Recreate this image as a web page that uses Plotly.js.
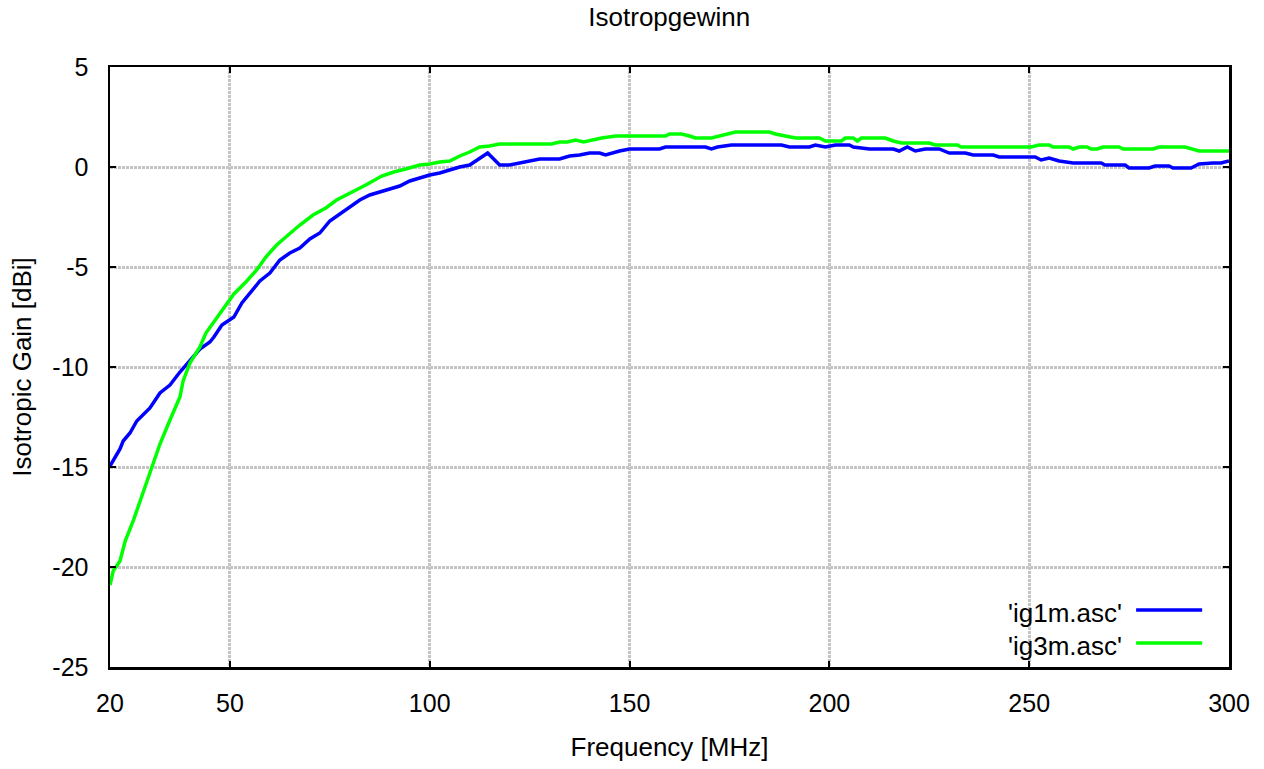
<!DOCTYPE html>
<html>
<head>
<meta charset="utf-8">
<script src="https://cdn.plot.ly/plotly-3.0.1.min.js"></script>
<style>html,body{margin:0;padding:0;background:#fff;}#chart{width:1264px;height:769px;}</style>
</head>
<body>
<div id="chart"></div>
<script>
// Series 1: 'ig1m.asc'
const freq1 = [20,21,22.5,23.3,25,26.7,28,30,32.5,35,37.5,40,42.5,45,46,48,50,51,53,55,57.5,60,62.5,65,67.5,70,72.5,75,77.5,80,82.5,85,87.5,90,92.5,95,97.5,100,102.5,105,107.5,110,112.5,114.5,115.5,117.5,120,122.5,125,127.5,132.5,135,137.5,140,142.5,144,147.5,150,157.5,159,169,170.5,172,175.5,188,190,195,196.5,199,201.5,203,205,206,210,216,217.5,219.5,221.5,224,227.5,230,234,236,241,242.5,251.5,253,255,257.5,261,268,269,274,275,280,281.5,285,286,290.5,292.5,296,298,300];
const gain1 = [-14.95,-14.6,-14.1,-13.7,-13.3,-12.7,-12.45,-12.05,-11.3,-10.9,-10.25,-9.7,-9.1,-8.75,-8.5,-7.9,-7.6,-7.5,-6.8,-6.3,-5.7,-5.3,-4.65,-4.3,-4.05,-3.6,-3.3,-2.7,-2.35,-1.95,-1.65,-1.4,-1.25,-1.1,-0.95,-0.7,-0.55,-0.4,-0.3,-0.15,0.0,0.1,0.45,0.7,0.5,0.1,0.1,0.2,0.3,0.4,0.4,0.55,0.6,0.7,0.7,0.6,0.8,0.9,0.9,1.0,1.0,0.9,1.0,1.1,1.1,1.0,1.0,1.1,1.0,1.1,1.1,1.1,1.0,0.9,0.9,0.8,1.0,0.8,0.9,0.9,0.7,0.7,0.6,0.6,0.5,0.5,0.35,0.45,0.3,0.2,0.2,0.1,0.1,-0.05,-0.05,0.05,0.05,-0.05,-0.05,0.15,0.2,0.2,0.3];

// Series 2: 'ig3m.asc'
const freq2 = [20,20.8,22.5,23.8,25.8,27.5,30,32.5,35,37.5,38.3,40,42.5,44,46.7,49,51,54,56.7,59,61.7,64,67.5,70.8,74,76.7,80.8,84,88,91,94,97.5,100,102.5,105,107.5,110,112.5,115,117.5,130.5,132.5,134.5,136.5,138.5,140.5,143,146.5,159,160,163,165,166.5,170.5,172.5,175,176.5,185,186.5,189,191.5,197.5,199,203,204,206,207,208,214,216,218,225,226.5,232,233,250.5,252.5,255,256,260,261,262.5,264.5,265.5,267,268.5,272.5,273.5,281,282.5,289,292.5,300];
const gain2 = [-20.9,-20.2,-19.7,-18.7,-17.7,-16.7,-15.2,-13.85,-12.65,-11.5,-10.7,-9.8,-9.0,-8.3,-7.55,-6.9,-6.35,-5.75,-5.15,-4.5,-3.9,-3.5,-2.9,-2.4,-2.05,-1.65,-1.25,-0.9,-0.45,-0.25,-0.1,0.1,0.15,0.25,0.3,0.55,0.75,1.0,1.05,1.15,1.15,1.25,1.25,1.35,1.25,1.35,1.45,1.55,1.55,1.65,1.65,1.55,1.45,1.45,1.55,1.65,1.75,1.75,1.65,1.55,1.45,1.45,1.3,1.3,1.45,1.45,1.3,1.45,1.45,1.3,1.2,1.2,1.1,1.1,1.0,1.0,1.1,1.1,1.0,1.0,0.9,1.0,1.0,0.9,0.9,1.0,1.0,0.9,0.9,1.0,1.0,0.8,0.8];

const seriesNames = ["'ig1m.asc'", "'ig3m.asc'"];
const xTicks = [20,50,100,150,200,250,300];
const yTicks = [5,0,-5,-10,-15,-20,-25];

const FONT = 'Liberation Sans, Arial, sans-serif';
const traces = [
  {x: freq1, y: gain1, name: seriesNames[0], mode: 'lines', line: {color: '#0000ff', width: 3.5}},
  {x: freq2, y: gain2, name: seriesNames[1], mode: 'lines', line: {color: '#00ff00', width: 3.5}}
];

const axisCommon = {
  showline: true, linecolor: '#000', linewidth: 2.5, mirror: 'ticks',
  ticks: 'inside', ticklen: 6, tickwidth: 2, tickcolor: '#000',
  showgrid: true, gridcolor: '#c4c4c4', gridwidth: 3, griddash: '3px,1px',
  zeroline: false, tickfont: {family: FONT, size: 25, color: '#000'}
};

const layout = {
  width: 1264, height: 769,
  margin: {l: 110, r: 35, t: 67, b: 102},
  paper_bgcolor: '#fff', plot_bgcolor: '#fff',
  showlegend: false,
  font: {family: FONT, color: '#000'},
  title: {text: 'Isotropgewinn', font: {family: FONT, size: 26, color: '#000'}, x: 0.5295, xanchor: 'center', y: 0.978, yanchor: 'middle'},
  xaxis: Object.assign({}, axisCommon, {
    range: [20, 300], tickvals: xTicks, ticktext: xTicks.map(String),
    ticklabelstandoff: 12,
    title: {text: 'Frequency [MHz]', font: {family: FONT, size: 26, color: '#000'}, standoff: 23}
  }),
  yaxis: Object.assign({}, axisCommon, {
    range: [-25, 5], tickvals: yTicks, ticktext: yTicks.map(String),
    ticklabelstandoff: 14,
    title: {text: 'Isotropic Gain [dBi]', font: {family: FONT, size: 26, color: '#000'}, standoff: 14}
  }),
  annotations: [
    {xref: 'paper', yref: 'paper', x: 0.906, y: 0.09, xanchor: 'right', yanchor: 'middle', text: seriesNames[0], showarrow: false, font: {family: FONT, size: 26, color: '#000'}},
    {xref: 'paper', yref: 'paper', x: 0.906, y: 0.035, xanchor: 'right', yanchor: 'middle', text: seriesNames[1], showarrow: false, font: {family: FONT, size: 26, color: '#000'}}
  ],
  shapes: [
    {type: 'line', xref: 'paper', yref: 'paper', x0: 0.917, x1: 0.976, y0: 0.095, y1: 0.095, line: {color: '#0000ff', width: 3.5}},
    {type: 'line', xref: 'paper', yref: 'paper', x0: 0.917, x1: 0.976, y0: 0.04, y1: 0.04, line: {color: '#00ff00', width: 3.5}}
  ]
};

Plotly.newPlot('chart', traces, layout, {displayModeBar: false, staticPlot: true});
</script>
</body>
</html>
